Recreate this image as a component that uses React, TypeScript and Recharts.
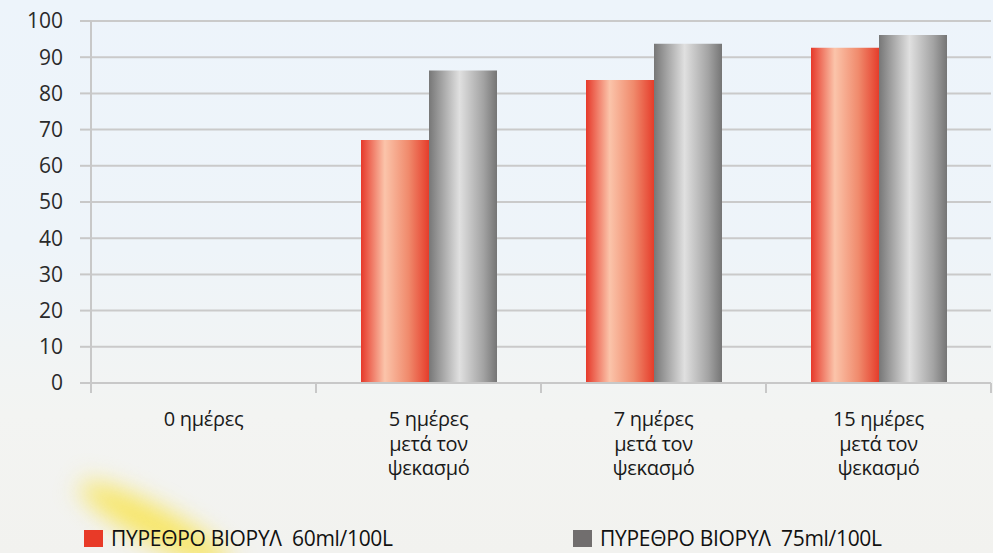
import React from 'react';
import { BarChart, Bar, XAxis, YAxis, CartesianGrid, Legend } from 'recharts';

// categories (line breaks as in the original labels)
const categories = [
  '0 ημέρες',
  '5 ημέρες\nμετά τον\nψεκασμό',
  '7 ημέρες\nμετά τον\nψεκασμό',
  '15 ημέρες\nμετά τον\nψεκασμό',
];
const dose60 = [0, 67.1, 83.7, 92.6];
const dose75 = [0, 86.3, 93.7, 96.1];
const seriesNames = ['ΠΥΡΕΘΡΟ ΒΙΟΡΥΛ  60ml/100L', 'ΠΥΡΕΘΡΟ ΒΙΟΡΥΛ  75ml/100L'];
const yTicks = [0, 10, 20, 30, 40, 50, 60, 70, 80, 90, 100];

const data = categories.map((c, i) => ({ name: c, d60: dose60[i], d75: dose75[i] }));

const W = 993;
const H = 553;
const FONT = '"Open Sans", "Noto Sans", sans-serif';
const AXIS = '#c8c8c8';

const XTick = (props: any) => {
  const { x, y, payload, index } = props;
  const half = payload.offset || 112.5;
  const lines = String(payload.value).split('\n');
  return (
    <g>
      <line x1={x - half} x2={x - half} y1={y} y2={y + 10} stroke={AXIS} strokeWidth={2} />
      {index === categories.length - 1 && (
        <line x1={x + half} x2={x + half} y1={y} y2={y + 10} stroke={AXIS} strokeWidth={2} />
      )}
      <text x={x} y={y + 43} textAnchor="middle" fill="#1a1a1a" fontSize={20} fontFamily={FONT} letterSpacing={-0.3}>
        {lines.map((l, i) => (
          <tspan key={i} x={x} dy={i === 0 ? 0 : 24.5}>{l}</tspan>
        ))}
      </text>
    </g>
  );
};

const legendColors = ['#e83a28', '#716e6e'];
const legendLeft = [84, 573];

const renderLegend = () => (
  <div style={{ position: 'relative', height: 30, width: W }}>
    {seriesNames.map((n, i) => (
      <div key={n} style={{ position: 'absolute', left: legendLeft[i], top: 0, height: 30, display: 'flex', alignItems: 'center' }}>
        <span style={{ display: 'inline-block', width: 19, height: 17, background: legendColors[i], marginRight: 8, marginTop: 1 }} />
        <span style={{ fontFamily: FONT, fontSize: 21, color: '#111', whiteSpace: 'pre', letterSpacing: -0.3 }}>{n}</span>
      </div>
    ))}
  </div>
);

export default function App() {
  return (
    <div
      style={{
        position: 'fixed',
        left: 0,
        top: 0,
        width: W,
        height: H,
        overflow: 'hidden',
        background: 'linear-gradient(180deg, #edf4fb 0%, #eef4f9 45%, #f3f4f2 75%, #f2f2ef 100%)',
      }}
    >
      <div
        style={{
          position: 'absolute',
          left: 70,
          top: 508,
          width: 170,
          height: 34,
          borderRadius: '50%',
          background: 'rgba(250, 226, 50, 0.75)',
          filter: 'blur(12px)',
          transform: 'rotate(28deg)',
        }}
      />
      <div style={{ position: 'absolute', left: 0, top: 0 }}>
        <BarChart
          width={W}
          height={H}
          data={data}
          margin={{ top: 21, right: 2, left: 0, bottom: 0 }}
          barCategoryGap="20%"
          barGap={0}
        >
          <defs>
            <linearGradient id="gRed" x1="0" y1="0" x2="1" y2="0">
              <stop offset="0%" stopColor="#e6392a" />
              <stop offset="35%" stopColor="#fbc4aa" />
              <stop offset="70%" stopColor="#f08a6c" />
              <stop offset="100%" stopColor="#e53d2b" />
            </linearGradient>
            <linearGradient id="gGray" x1="0" y1="0" x2="1" y2="0">
              <stop offset="0%" stopColor="#777777" />
              <stop offset="45%" stopColor="#e0e0e0" />
              <stop offset="80%" stopColor="#a3a3a3" />
              <stop offset="100%" stopColor="#757575" />
            </linearGradient>
          </defs>
          <CartesianGrid vertical={false} stroke="#cacaca" strokeWidth={2} />
          <XAxis
            dataKey="name"
            height={140}
            interval={0}
            tickSize={0}
            tickMargin={0}
            axisLine={{ stroke: AXIS, strokeWidth: 2 }}
            tickLine={false}
            tick={<XTick />}
          />
          <YAxis
            width={91}
            domain={[0, 100]}
            ticks={yTicks}
            interval={0}
            tickSize={11}
            tickMargin={17}
            axisLine={{ stroke: AXIS, strokeWidth: 2 }}
            tickLine={{ stroke: AXIS, strokeWidth: 2 }}
            tick={{ fill: '#2a2a2a', fontSize: 21, fontFamily: FONT }}
          />
          <Legend verticalAlign="bottom" content={renderLegend} />
          <Bar dataKey="d60" name={seriesNames[0]} fill="url(#gRed)" isAnimationActive={false} />
          <Bar dataKey="d75" name={seriesNames[1]} fill="url(#gGray)" isAnimationActive={false} />
        </BarChart>
      </div>
    </div>
  );
}
